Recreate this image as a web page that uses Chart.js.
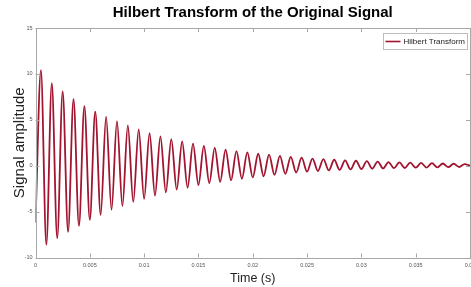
<!DOCTYPE html>
<html>
<head>
<meta charset="utf-8">
<script src="https://cdn.jsdelivr.net/npm/chart.js@4"></script>
<style>
html,body{margin:0;padding:0;background:#fff;}
#wrap{width:471px;height:287px;position:relative;}
</style>
</head>
<body>
<div id="wrap"><canvas id="c" width="471" height="287"></canvas></div>
<script>
// ---- data ----
const time = [
  0, 0.0005, 0.001, 0.0015, 0.002, 0.0025, 0.003, 0.0035, 0.004, 0.0045,
  0.005, 0.0055, 0.006, 0.0065, 0.007, 0.0075, 0.008, 0.0085, 0.009, 0.0095,
  0.010, 0.0105, 0.011, 0.0115, 0.012, 0.0125, 0.013, 0.0135, 0.014, 0.0145,
  0.015, 0.0155, 0.016, 0.0165, 0.017, 0.0175, 0.018, 0.0185, 0.019, 0.0195,
  0.020, 0.0205, 0.021, 0.0215, 0.022, 0.0225, 0.023, 0.0235, 0.024, 0.0245,
  0.025, 0.0255, 0.026, 0.0265, 0.027, 0.0275, 0.028, 0.0285, 0.029, 0.0295,
  0.030, 0.0305, 0.031, 0.0315, 0.032, 0.0325, 0.033, 0.0335, 0.034, 0.0345,
  0.035, 0.0355, 0.036, 0.0365, 0.037, 0.0375, 0.038, 0.0385, 0.039, 0.0395,
  0.040
];
const hilbertValues = [
  -6.2, 10.4, -8.6, 9.0, -7.9, 8.1, -7.2, 7.25, -6.55, 6.5,
  -5.9, 5.9, -5.35, 5.35, -4.8, 4.85, -4.4, 4.4, -3.95, 3.95,
  -3.6, 3.55, -3.25, 3.2, -2.9, 2.9, -2.6, 2.65, -2.4, 2.4,
  -2.1, 2.17, -1.9, 1.95, -1.75, 1.76, -1.6, 1.58, -1.42, 1.45,
  -1.28, 1.3, -1.15, 1.2, -1.0, 1.07, -0.88, 0.97, -0.75, 0.87,
  -0.65, 0.78, -0.58, 0.72, -0.52, 0.65, -0.46, 0.59, -0.41, 0.54,
  -0.37, 0.5, -0.33, 0.45, -0.3, 0.4, -0.27, 0.37, -0.25, 0.33,
  -0.22, 0.3, -0.2, 0.27, -0.18, 0.24, -0.16, 0.21, -0.14, 0.18,
  0.0
];
const xTicks = [0, 0.005, 0.01, 0.015, 0.02, 0.025, 0.03, 0.035, 0.04];
const yTicks = [-10, -5, 0, 5, 10, 15];
const seriesLabel = 'Hilbert Transform';
const chartTitle = 'Hilbert Transform of the Original Signal';
const xTitle = 'Time (s)';
const yTitle = 'Signal amplitude';

const LINE_COLOR = '#A2142F';
const AXIS_COLOR = '#a8a8a8';
const REG = '"Liberation Sans", Arial, Helvetica, sans-serif';

const points = time.map((t, i) => ({x: t, y: hilbertValues[i]}));

const framePlugin = {
  id: 'frame',
  afterDatasetsDraw(chart) {
    const {ctx, chartArea: a, scales} = chart;
    ctx.save();
    ctx.strokeStyle = AXIS_COLOR;
    ctx.lineWidth = 1;
    ctx.strokeRect(Math.round(a.left) + 0.5, Math.round(a.top) + 0.5,
                   Math.round(a.right - a.left) - 1, Math.round(a.bottom - a.top));
    const L = 4;
    ctx.beginPath();
    xTicks.forEach(v => {
      const px = Math.round(scales.x.getPixelForValue(v)) + 0.5;
      ctx.moveTo(px, a.bottom); ctx.lineTo(px, a.bottom - L);
      ctx.moveTo(px, a.top); ctx.lineTo(px, a.top + L);
    });
    yTicks.forEach(v => {
      const py = Math.round(scales.y.getPixelForValue(v)) + 0.5;
      ctx.moveTo(a.left, py); ctx.lineTo(a.left + L, py);
      ctx.moveTo(a.right, py); ctx.lineTo(a.right - L, py);
    });
    ctx.stroke();

    // legend box (top-right inside the axes)
    const ds = chart.data.datasets[0];
    ctx.font = '8px ' + REG;
    const tw = ctx.measureText(ds.label).width;
    const bw = 2 + 15 + 3 + tw + 3;
    const bh = 16;
    const bx = Math.round(a.right - 3 - bw);
    const by = Math.round(a.top + 5);
    ctx.fillStyle = '#fff';
    ctx.fillRect(bx, by, bw, bh);
    ctx.strokeStyle = '#bdbdbd';
    ctx.strokeRect(bx + 0.5, by + 0.5, Math.round(bw), bh);
    const cy = by + bh / 2 + 0.5;
    ctx.strokeStyle = ds.borderColor;
    ctx.lineWidth = 1.6;
    ctx.beginPath();
    ctx.moveTo(bx + 2.5, cy); ctx.lineTo(bx + 17.5, cy);
    ctx.stroke();
    ctx.fillStyle = '#222';
    ctx.textBaseline = 'middle';
    ctx.textAlign = 'left';
    ctx.fillText(ds.label, bx + 20.5, cy);
    ctx.restore();
  }
};

new Chart(document.getElementById('c'), {
  type: 'line',
  data: {
    datasets: [{
      label: seriesLabel,
      data: points,
      borderColor: LINE_COLOR,
      backgroundColor: LINE_COLOR,
      borderWidth: 1.8,
      pointRadius: 0,
      fill: false,
      cubicInterpolationMode: 'monotone'
    }]
  },
  options: {
    responsive: false,
    animation: false,
    devicePixelRatio: 1,
    layout: {padding: {left: 0, right: 1, top: 0, bottom: 0}},
    plugins: {
      title: {
        display: true,
        fullSize: false,
        text: chartTitle,
        color: '#000',
        font: {family: REG, size: 15, weight: 'bold', lineHeight: 1.2},
        padding: {top: 4, bottom: 6}
      },
      legend: {display: false},
      tooltip: {enabled: false}
    },
    scales: {
      x: {
        type: 'linear',
        min: 0, max: 0.04,
        afterBuildTicks(s) { s.ticks = xTicks.map(v => ({value: v})); },
        afterFit(s) { s.height = 29.5; s.paddingLeft = 0; s.paddingRight = 0; },
        grid: {display: false, drawTicks: false},
        border: {display: false},
        ticks: {
          padding: 5,
          color: '#555',
          maxRotation: 0,
          autoSkip: false,
          font: {family: REG, size: 5.5},
          callback: v => String(Number(v.toFixed(3)))
        },
        title: {
          display: true,
          text: xTitle,
          color: '#222',
          font: {family: REG, size: 12.5, lineHeight: 1.2},
          padding: {top: 0, bottom: 1}
        }
      },
      y: {
        type: 'linear',
        min: -10, max: 15,
        afterBuildTicks(s) { s.ticks = yTicks.map(v => ({value: v})); },
        afterFit(s) { s.width = 35.5; },
        grid: {display: false, drawTicks: false},
        border: {display: false},
        ticks: {
          padding: 3,
          color: '#555',
          autoSkip: false,
          font: {family: REG, size: 5.5},
          callback: v => String(v)
        },
        title: {
          display: true,
          text: yTitle,
          color: '#222',
          font: {family: REG, size: 15, lineHeight: 1.2},
          padding: {top: 11, bottom: 0}
        }
      }
    }
  },
  plugins: [framePlugin]
});
</script>
</body>
</html>
